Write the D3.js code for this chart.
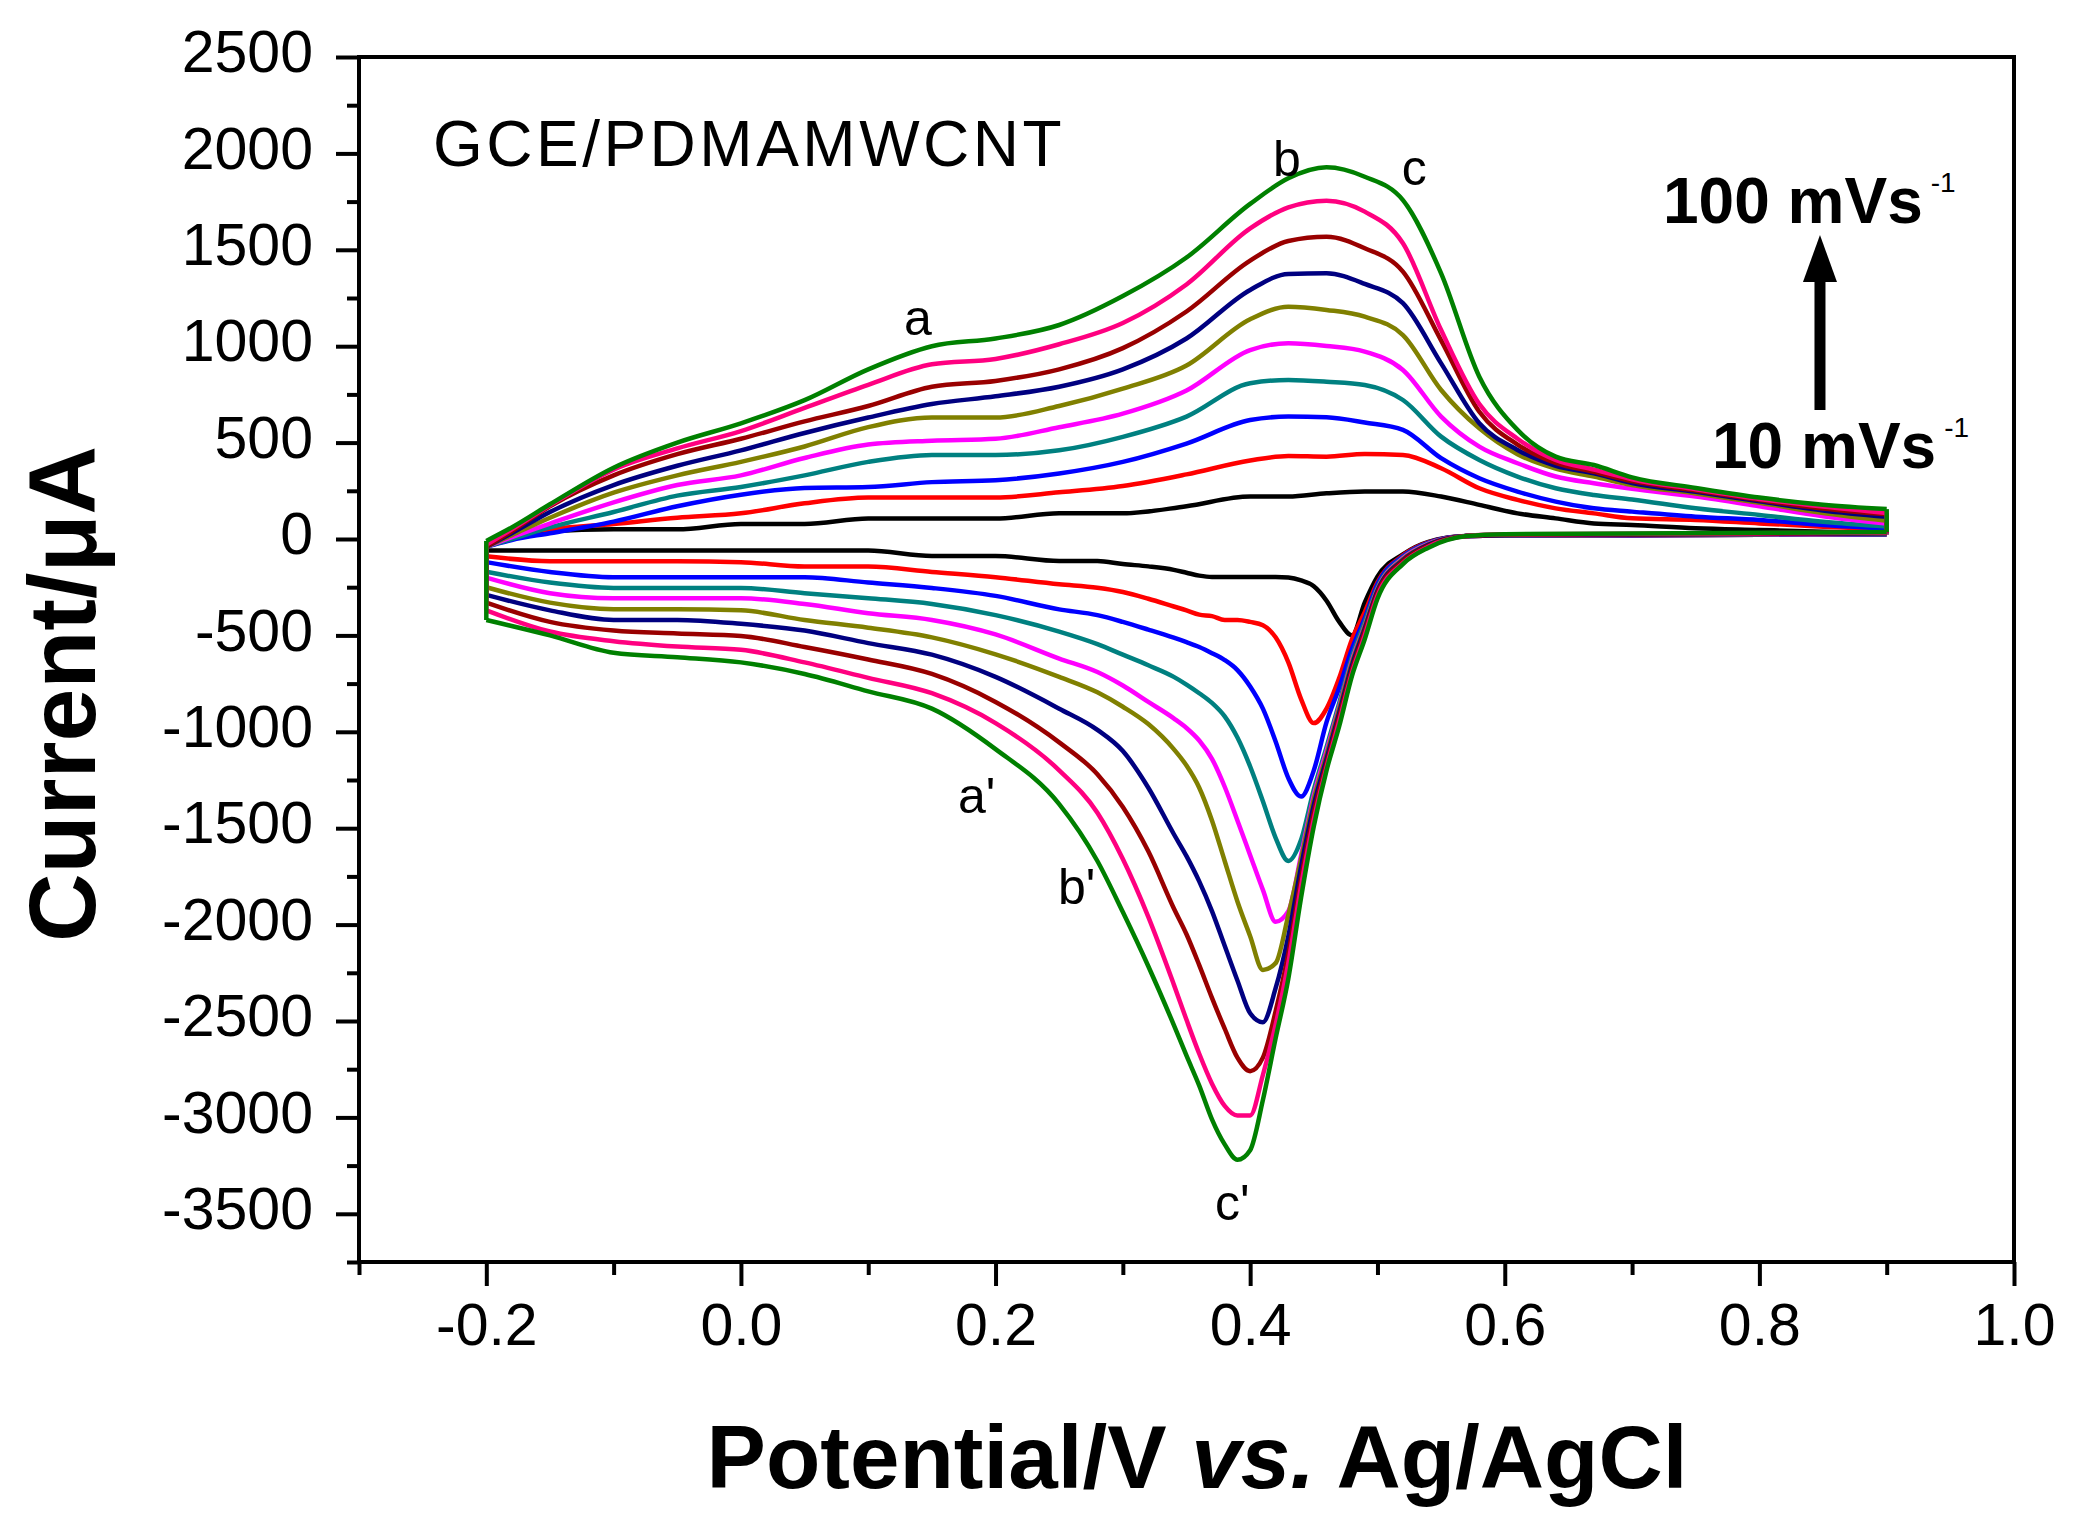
<!DOCTYPE html>
<html>
<head>
<meta charset="utf-8">
<script src="https://cdn.jsdelivr.net/npm/d3@7"></script>
<style>
  body { margin: 0; background: #fff; }
  text { font-family: "Liberation Sans", Arial, sans-serif; fill: #000; }
</style>
</head>
<body>
<svg id="viz"></svg>
<script>

// the data: potentials (V) of the forward (anodic) and reverse (cathodic) sweeps
var potentialAnodic = [-0.2, -0.18, -0.15, -0.1, -0.05, 0, 0.05, 0.1, 0.15, 0.2, 0.25, 0.3, 0.35, 0.4,
	0.43, 0.46, 0.49, 0.52, 0.55, 0.58, 0.61, 0.64, 0.67, 0.7, 0.75, 0.8, 0.85, 0.9];
var potentialCathodic = [-0.2, -0.15, -0.1, -0.05, 0, 0.05, 0.1, 0.15, 0.2, 0.25, 0.28, 0.3, 0.32, 0.34,
	0.35, 0.36, 0.37, 0.38, 0.39, 0.4, 0.41, 0.42, 0.43, 0.44, 0.45, 0.46, 0.47, 0.48, 0.49, 0.5,
	0.52, 0.54, 0.57, 0.6, 0.7, 0.8, 0.9];

// scan rates (mV/s) and their colours
var scanRates = [10, 20, 30, 40, 50, 60, 70, 80, 90, 100];
var colors = ["#000000", "#ff0000", "#0000ff", "#008080", "#ff00ff", "#808000", "#000080", "#990000", "#ff0080", "#008000"];

// current (uA), forward sweep
var anodic10  = [-40, 10, 40, 50, 50, 78, 78, 106, 106, 106, 133, 133, 170, 220, 220, 237, 246, 246, 220, 177, 133, 107, 81, 73, 56, 47, 38, 30];
var anodic20  = [-30, 20, 50, 78, 110, 133, 185, 215, 215, 215, 242, 275, 335, 407, 431, 427, 441, 436, 367, 263, 203, 159, 133, 107, 99, 81, 64, 50];
var anodic30  = [-40, -5, 30, 90, 170, 230, 265, 270, 295, 305, 340, 400, 495, 617, 635, 631, 604, 566, 419, 315, 246, 194, 159, 142, 116, 99, 73, 55];
var anodic40  = [-40, 0, 60, 140, 225, 270, 330, 400, 436, 436, 460, 530, 635, 808, 825, 816, 799, 721, 531, 410, 324, 263, 228, 205, 159, 125, 90, 65];
var anodic50  = [-40, 10, 80, 190, 280, 330, 420, 490, 510, 520, 580, 650, 770, 980, 1015, 1001, 972, 877, 635, 479, 393, 324, 289, 260, 220, 170, 118, 80];
var anodic60  = [-40, 20, 110, 240, 330, 400, 480, 580, 630, 630, 690, 780, 900, 1140, 1205, 1188, 1153, 1058, 773, 574, 440, 365, 324, 280, 236, 188, 135, 95];
var anodic70  = [-40, 30, 140, 280, 380, 460, 550, 630, 700, 740, 790, 880, 1040, 1292, 1375, 1378, 1323, 1223, 911, 600, 462, 380, 341, 290, 245, 196, 148, 115];
var anodic80  = [-40, 40, 170, 330, 440, 520, 610, 690, 790, 820, 880, 990, 1180, 1444, 1546, 1568, 1508, 1387, 1030, 660, 490, 395, 348, 300, 252, 202, 158, 128];
var anodic90  = [-30, 50, 175, 360, 470, 560, 680, 800, 906, 934, 1010, 1120, 1320, 1611, 1720, 1755, 1698, 1534, 1084, 700, 520, 410, 360, 310, 258, 208, 168, 135];
var anodic100 = [-10, 60, 180, 370, 500, 600, 720, 880, 1000, 1040, 1110, 1260, 1460, 1738, 1871, 1928, 1879, 1758, 1378, 842, 566, 427, 384, 320, 265, 215, 178, 155];

// current (uA), reverse sweep
var cathodic10  = [-60, -60, -60, -60, -60, -60, -60, -88, -88, -114, -114, -130, -142, -160, -175, -190, -197, -197, -197, -197,
	-197, -197, -200, -215, -245, -320, -430, -500, -330, -195, -80, -15, 15, 18, 20, 22, 24];
var cathodic20  = [-90, -115, -115, -115, -120, -143, -143, -171, -198, -235, -253, -275, -310, -350, -370, -392, -400, -420, -420, -430,
	-447, -510, -640, -830, -955, -880, -720, -520, -380, -225, -85, -18, 15, 18, 20, 22, 24];
var cathodic30  = [-120, -171, -198, -198, -198, -198, -226, -254, -295, -365, -395, -430, -470, -512, -535, -560, -592, -628, -680, -765,
	-880, -1050, -1240, -1336, -1200, -950, -770, -570, -410, -235, -90, -20, 15, 18, 20, 22, 25];
var cathodic40  = [-170, -226, -254, -254, -254, -281, -307, -337, -395, -480, -545, -600, -655, -715, -755, -800, -850, -920, -1030, -1180,
	-1360, -1550, -1670, -1560, -1300, -1080, -850, -610, -430, -250, -95, -22, 15, 20, 22, 24, 26];
var cathodic50  = [-200, -281, -307, -307, -307, -337, -385, -420, -495, -620, -690, -760, -845, -930, -980, -1045, -1140, -1285, -1460, -1640,
	-1820, -1985, -1930, -1640, -1330, -1100, -870, -630, -450, -260, -100, -25, 15, 20, 22, 24, 27];
var cathodic60  = [-250, -330, -364, -364, -370, -420, -460, -510, -598, -715, -795, -870, -960, -1090, -1175, -1290, -1460, -1670, -1880, -2060,
	-2235, -2200, -1950, -1660, -1350, -1120, -880, -640, -455, -265, -105, -28, 15, 20, 22, 25, 28];
var cathodic70  = [-290, -370, -420, -420, -440, -475, -540, -600, -715, -880, -990, -1100, -1290, -1530, -1645, -1776, -1930, -2110, -2290, -2460,
	-2506, -2330, -2060, -1700, -1380, -1140, -900, -655, -465, -270, -110, -30, 15, 20, 23, 26, 30];
var cathodic80  = [-330, -430, -475, -490, -503, -560, -625, -700, -845, -1055, -1220, -1390, -1620, -1915, -2050, -2210, -2380, -2540, -2690, -2760,
	-2690, -2450, -2150, -1760, -1420, -1165, -920, -675, -480, -280, -115, -35, 15, 22, 25, 28, 32];
var cathodic90  = [-370, -480, -530, -558, -575, -640, -720, -800, -955, -1200, -1420, -1660, -1960, -2310, -2494, -2670, -2825, -2940, -2990, -2990,
	-2780, -2520, -2200, -1800, -1455, -1185, -945, -695, -500, -295, -125, -40, 15, 24, 27, 30, 34];
var cathodic100 = [-420, -500, -590, -613, -640, -700, -790, -880, -1090, -1375, -1670, -1935, -2216, -2520, -2680, -2835, -3010, -3140, -3220, -3170,
	-2910, -2590, -2280, -1860, -1490, -1200, -970, -710, -520, -310, -130, -45, 15, 25, 28, 32, 36];

// tick values
var xTicks = [-0.2, 0, 0.2, 0.4, 0.6, 0.8, 1.0];
var xMinor = [-0.3, -0.1, 0.1, 0.3, 0.5, 0.7, 0.9];
var yTicks = [-3500, -3000, -2500, -2000, -1500, -1000, -500, 0, 500, 1000, 1500, 2000, 2500];
var yMinor = [-3750, -3250, -2750, -2250, -1750, -1250, -750, -250, 250, 750, 1250, 1750, 2250];

var anodicSets = [anodic10, anodic20, anodic30, anodic40, anodic50, anodic60, anodic70, anodic80, anodic90, anodic100];
var cathodicSets = [cathodic10, cathodic20, cathodic30, cathodic40, cathodic50, cathodic60, cathodic70, cathodic80, cathodic90, cathodic100];



// set up the svg
var w = 2073;
var h = 1528;
var viz = d3.select("#viz").attr("width", w).attr("height", h);
viz.append("rect").attr("width", w).attr("height", h).attr("fill", "#fff");

var plotLeft = 359, plotRight = 2014, plotTop = 57, plotBottom = 1262;
var x = d3.scaleLinear().domain([-0.3, 1.0]).range([plotLeft, plotRight]);
var y = d3.scaleLinear().domain([-3750, 2500]).range([plotBottom, plotTop]);



// draw the curves
var smooth = d3.line()
	.x(function(d) { return x(d[0]); })
	.y(function(d) { return y(d[1]); })
	.curve(d3.curveMonotoneX);
var straight = d3.line()
	.x(function(d) { return x(d[0]); })
	.y(function(d) { return y(d[1]); });

scanRates.forEach(function(rate, i) {
	var a = potentialAnodic.map(function(v, j) { return [v, anodicSets[i][j]]; });
	var c = potentialCathodic.map(function(v, j) { return [v, cathodicSets[i][j]]; });
	var g = viz.append("g")
		.attr("class", "cv")
		.attr("fill", "none")
		.attr("stroke", colors[i])
		.attr("stroke-width", 4.5)
		.attr("stroke-linejoin", "round");
	g.append("path").attr("d", smooth(a));
	g.append("path").attr("d", smooth(c));
	// the turning points of the sweep
	g.append("path").attr("d", straight([c[0], a[0]]));
	g.append("path").attr("d", straight([a[a.length - 1], c[c.length - 1]]));
});



// axes
var yAxis = viz.append("g")
	.attr("transform", "translate(" + plotLeft + ",0)")
	.call(d3.axisLeft(y).tickValues(yTicks).tickSize(23).tickPadding(23)
		.tickFormat(function(d) { return String(d); }));
var yAxisMinor = viz.append("g")
	.attr("transform", "translate(" + plotLeft + ",0)")
	.call(d3.axisLeft(y).tickValues(yMinor).tickSize(12).tickFormat(""));
var xAxis = viz.append("g")
	.attr("transform", "translate(0," + plotBottom + ")")
	.call(d3.axisBottom(x).tickValues(xTicks).tickSize(24).tickPadding(17)
		.tickFormat(function(d) { return d.toFixed(1); }));
var xAxisMinor = viz.append("g")
	.attr("transform", "translate(0," + plotBottom + ")")
	.call(d3.axisBottom(x).tickValues(xMinor).tickSize(13).tickFormat(""));

[yAxis, yAxisMinor, xAxis, xAxisMinor].forEach(function(ax) {
	ax.select(".domain").remove();
	ax.selectAll(".tick line").attr("stroke", "#000").attr("stroke-width", 4);
	ax.selectAll(".tick text")
		.attr("fill", "#000")
		.style("font-family", '"Liberation Sans", Arial, sans-serif')
		.style("font-size", "59px");
});
yAxis.selectAll(".tick text").attr("dy", "0.25em");

// the frame
viz.append("rect")
	.attr("x", plotLeft).attr("y", plotTop)
	.attr("width", plotRight - plotLeft).attr("height", plotBottom - plotTop)
	.attr("fill", "none")
	.attr("stroke", "#000")
	.attr("stroke-width", 4);



// axis titles
var xTitle = viz.append("text")
	.attr("x", 1197).attr("y", 1488)
	.attr("text-anchor", "middle")
	.style("font-size", "89px")
	.style("font-weight", "bold");
xTitle.append("tspan").text("Potential/V ");
xTitle.append("tspan").style("font-style", "italic").text("vs.");
xTitle.append("tspan").text(" Ag/AgCl");

viz.append("text")
	.attr("transform", "translate(95,694) rotate(-90)")
	.attr("text-anchor", "middle")
	.style("font-size", "95px")
	.style("font-weight", "bold")
	.text("Current/\u03bcA");



// annotations
viz.append("text")
	.attr("x", x(-0.2419)).attr("y", y(1935))
	.style("font-size", "64px")
	.style("letter-spacing", "3.5px")
	.text("GCE/PDMAMWCNT");

var peakLabels = [
	{t: "a", v: 0.128, i: 1058},
	{t: "b", v: 0.418, i: 1883},
	{t: "c", v: 0.519, i: 1836},
	{t: "a'", v: 0.1705, i: -1421},
	{t: "b'", v: 0.249, i: -1892},
	{t: "c'", v: 0.3724, i: -3531}
];
viz.selectAll("text.peak")
	.data(peakLabels)
	.enter()
	.append("text")
	.attr("class", "peak")
	.attr("x", function(d) { return x(d.v); })
	.attr("y", function(d) { return y(d.i); })
	.style("font-size", "50px")
	.text(function(d) { return d.t; });

// scan rate arrow
function rateLabel(txt, v, i) {
	var t = viz.append("text")
		.attr("x", x(v)).attr("y", y(i))
		.style("font-size", "64px")
		.style("font-weight", "bold");
	t.append("tspan").text(txt);
	t.append("tspan").attr("dx", 8).attr("dy", -31)
		.style("font-size", "28px").style("font-weight", "normal").text("-1");
}
rateLabel("100 mVs", 0.7243, 1639);
rateLabel("10 mVs", 0.7628, 369);

var ax0 = x(0.8476);
viz.append("line")
	.attr("x1", ax0).attr("x2", ax0)
	.attr("y1", y(669)).attr("y2", y(1400))
	.attr("stroke", "#000")
	.attr("stroke-width", 11);
viz.append("path")
	.attr("d", "M" + ax0 + "," + y(1577) + "L" + (ax0 - 17) + "," + y(1333) + "L" + (ax0 + 17) + "," + y(1333) + "Z")
	.attr("fill", "#000");

</script>
</body>
</html>
